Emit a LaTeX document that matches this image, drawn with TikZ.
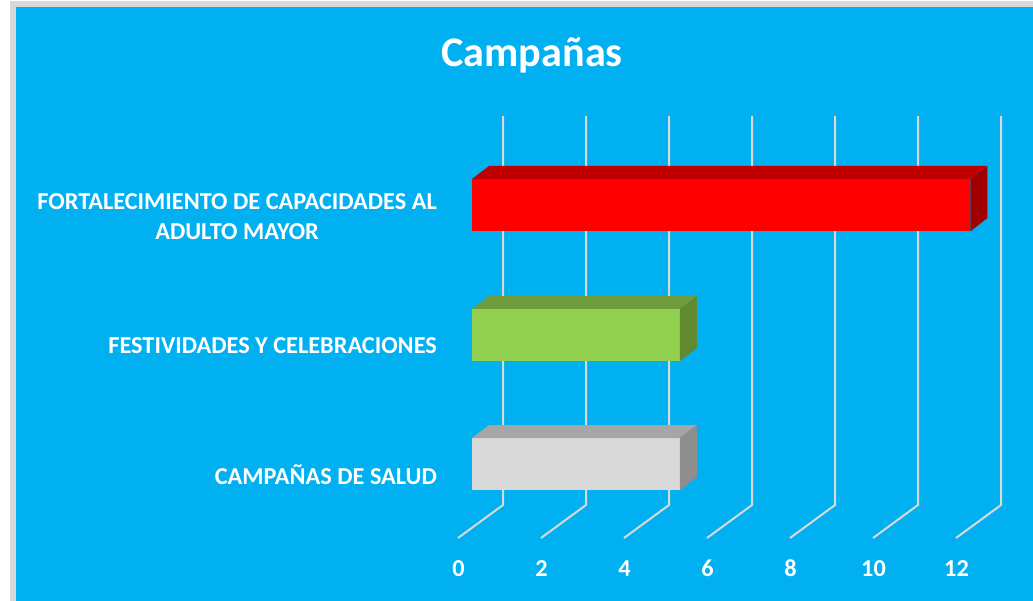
\documentclass[tikz,border=0pt]{standalone}
\usepackage{fontspec}
\setmainfont{Carlito}
\usetikzlibrary{positioning,calc}

\definecolor{chartblue}{HTML}{00B0F0}
\definecolor{framegray}{HTML}{D9D9D9}
\definecolor{gridgray}{HTML}{D9D9D9}
\definecolor{redfront}{HTML}{FF0000}
\definecolor{redtop}{HTML}{C00000}
\definecolor{redside}{HTML}{A20000}
\definecolor{greenfront}{HTML}{92D050}
\definecolor{greentop}{HTML}{6E9C3A}
\definecolor{greenside}{HTML}{5F8A30}
\definecolor{grayfront}{HTML}{D9D9D9}
\definecolor{graytop}{HTML}{A6A6A6}
\definecolor{grayside}{HTML}{8E8E8E}

\tikzset{
  gridline/.style={draw=gridgray, line width=2pt},
  barface/.style={draw=none, inner sep=0pt, minimum height=52pt, anchor=north west},
  catlabel/.style={text=white, font=\bfseries\fontsize{24.3}{30}\selectfont, align=center, inner sep=0pt},
  ticklabel/.style={text=white, font=\bfseries\fontsize{24.3}{28}\selectfont, inner sep=0pt, anchor=base},
}

\begin{document}
\begin{tikzpicture}[x=1pt, y=-1pt]
    \useasboundingbox (0,0) rectangle (1033,601);
    \fill[white] (0,0) rectangle (1033,601);
    \fill[framegray] (10,1) rectangle (1033,601);
    \fill[chartblue] (16,7) rectangle (1033,601);

    \node[text=white, font=\bfseries\fontsize{42.2}{48}\selectfont] (title) at (532,55) {Campañas};

    % back wall and floor
    \foreach \v in {0,2,...,12} {
        \coordinate (gtop\v) at ({503+41.5*\v},116);
        \coordinate (gbot\v) at ({503+41.5*\v},505);
        \coordinate (gfront\v) at ({458+41.5*\v},538);
        \draw[gridline] (gtop\v) -- (gbot\v) -- (gfront\v);
        \node[ticklabel] (tick\v) at ({458.5+41.5*\v},576) {\v};
    }

    % bars
    \foreach \name/\val/\ytop/\col in {fort/12/179/red, fest/5/309/green, salud/5/438/gray} {
        \node[barface, fill=\col front, minimum width={41.5pt*\val}] (\name) at (472,\ytop) {};
        \fill[\col top] (\name.north west) -- ++(17,-13) -- ++({41.5*\val},0) -- (\name.north east) -- cycle;
        \fill[\col side] (\name.north east) -- ++(17,-13) -- ++(0,52) -- (\name.south east) -- cycle;
    }

    \node[catlabel, left=35pt of fort, yshift=-11pt] (lfort) {FORTALECIMIENTO DE CAPACIDADES AL\\ADULTO MAYOR};
    \node[catlabel, left=35pt of fest, yshift=-10pt] (lfest) {FESTIVIDADES Y CELEBRACIONES};
    \node[catlabel, left=35pt of salud, yshift=-10pt] (lsalud) {CAMPAÑAS DE SALUD};
\end{tikzpicture}
\end{document}
